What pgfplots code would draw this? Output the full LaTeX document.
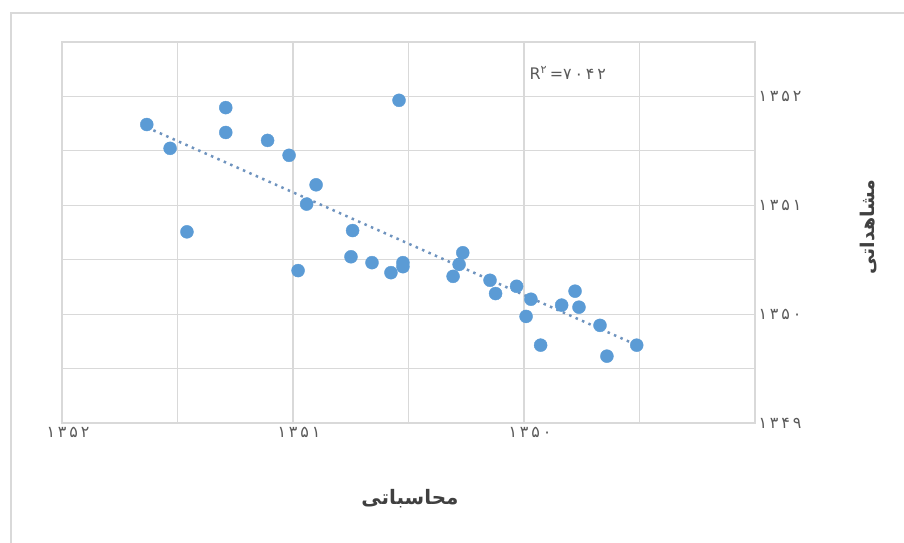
\documentclass[border=0pt]{standalone}
\usepackage{fontspec}
\usepackage{pgfplots}
\pgfplotsset{compat=1.18}
\TeXXeTstate=1
\setmainfont{DejaVu Sans}
\newfontfamily\arabicfont[Script=Arabic]{DejaVu Sans}
\newfontfamily\digitfont[Script=Arabic, LetterSpace=18]{DejaVu Sans}
\definecolor{pt}{HTML}{5B9BD5}
\definecolor{trend}{HTML}{6E93BE}
\definecolor{gridc}{HTML}{D9D9D9}
\definecolor{txt}{HTML}{595959}
\definecolor{ttl}{HTML}{404040}
\pgfplotstableread{
x y
1351.633 1351.742
1351.532 1351.523
1351.459 1350.756
1351.291 1351.897
1351.291 1351.669
1351.110 1351.596
1351.017 1351.459
1350.900 1351.188
1350.941 1351.011
1350.978 1350.400
1350.742 1350.768
1350.749 1350.527
1350.658 1350.473
1350.576 1350.381
1350.524 1350.473
1350.524 1350.436
1350.541 1351.964
1350.307 1350.347
1350.281 1350.457
1350.265 1350.564
1350.147 1350.311
1350.123 1350.189
1350.032 1350.256
1349.991 1349.979
1349.970 1350.137
1349.928 1349.715
1349.837 1350.083
1349.779 1350.211
1349.762 1350.064
1349.671 1349.897
1349.641 1349.614
1349.512 1349.715
}\pts
\begin{document}
\begin{tikzpicture}
\path[use as bounding box] (0bp,0bp) rectangle (904bp,543bp);
\draw[color=gridc, line width=1.5bp] (11bp,0bp) -- (11bp,530bp) -- (904bp,530bp);
\begin{axis}[
 at={(62bp,120bp)}, anchor=south west,
 scale only axis, width=693bp, height=381bp,
 x dir=reverse,
 xmin=1349, xmax=1352, ymin=1349, ymax=1352.5,
 xtick={1350,1351,1352}, xticklabels={۱۳۵۰,۱۳۵۱,۱۳۵۲},
 minor xtick={1349.5,1350.5,1351.5},
 ytick={1349,1350,1351,1352}, yticklabels={۱۳۴۹,۱۳۵۰,۱۳۵۱,۱۳۵۲},
 minor ytick={1349.5,1350.5,1351.5,1352.5},
 grid=both,
 major grid style={draw=gridc, line width=1.2bp},
 minor grid style={draw=gridc, line width=1.2bp},
 axis line style={draw=gridc, line width=1.2bp},
 major tick length=0pt, minor tick length=0pt,
 yticklabel pos=right,
 ticklabel style={font=\digitfont\fontsize{16}{18}\selectfont, text=txt},
 yticklabel style={anchor=west, xshift=0bp},
 xticklabel style={yshift=-1bp, xshift=6bp},
 clip=false,
]
\addplot[only marks, mark=*, mark size=6.5bp, mark options={fill=pt, draw=pt}] table[x=x,y=y] {\pts};
\addplot[trend, line width=2.5bp, dash pattern=on 2.5bp off 4.5bp] coordinates {(1351.632,1351.715) (1349.511,1349.715)};
\end{axis}
\node[anchor=west, text=txt, font=\fontsize{16}{18}\selectfont] at (526bp,470bp) {R\textsuperscript{\arabicfont ۲}\,=\digitfont ۷۰۴۲};
\node[text=ttl, font=\arabicfont\bfseries\fontsize{20}{22}\selectfont] at (410bp,44bp) {\beginR محاسباتی\endR};
\node[rotate=90, text=ttl, font=\arabicfont\bfseries\fontsize{19}{22}\selectfont] at (868bp,316bp) {\beginR مشاهداتی\endR};
\end{tikzpicture}
\end{document}
